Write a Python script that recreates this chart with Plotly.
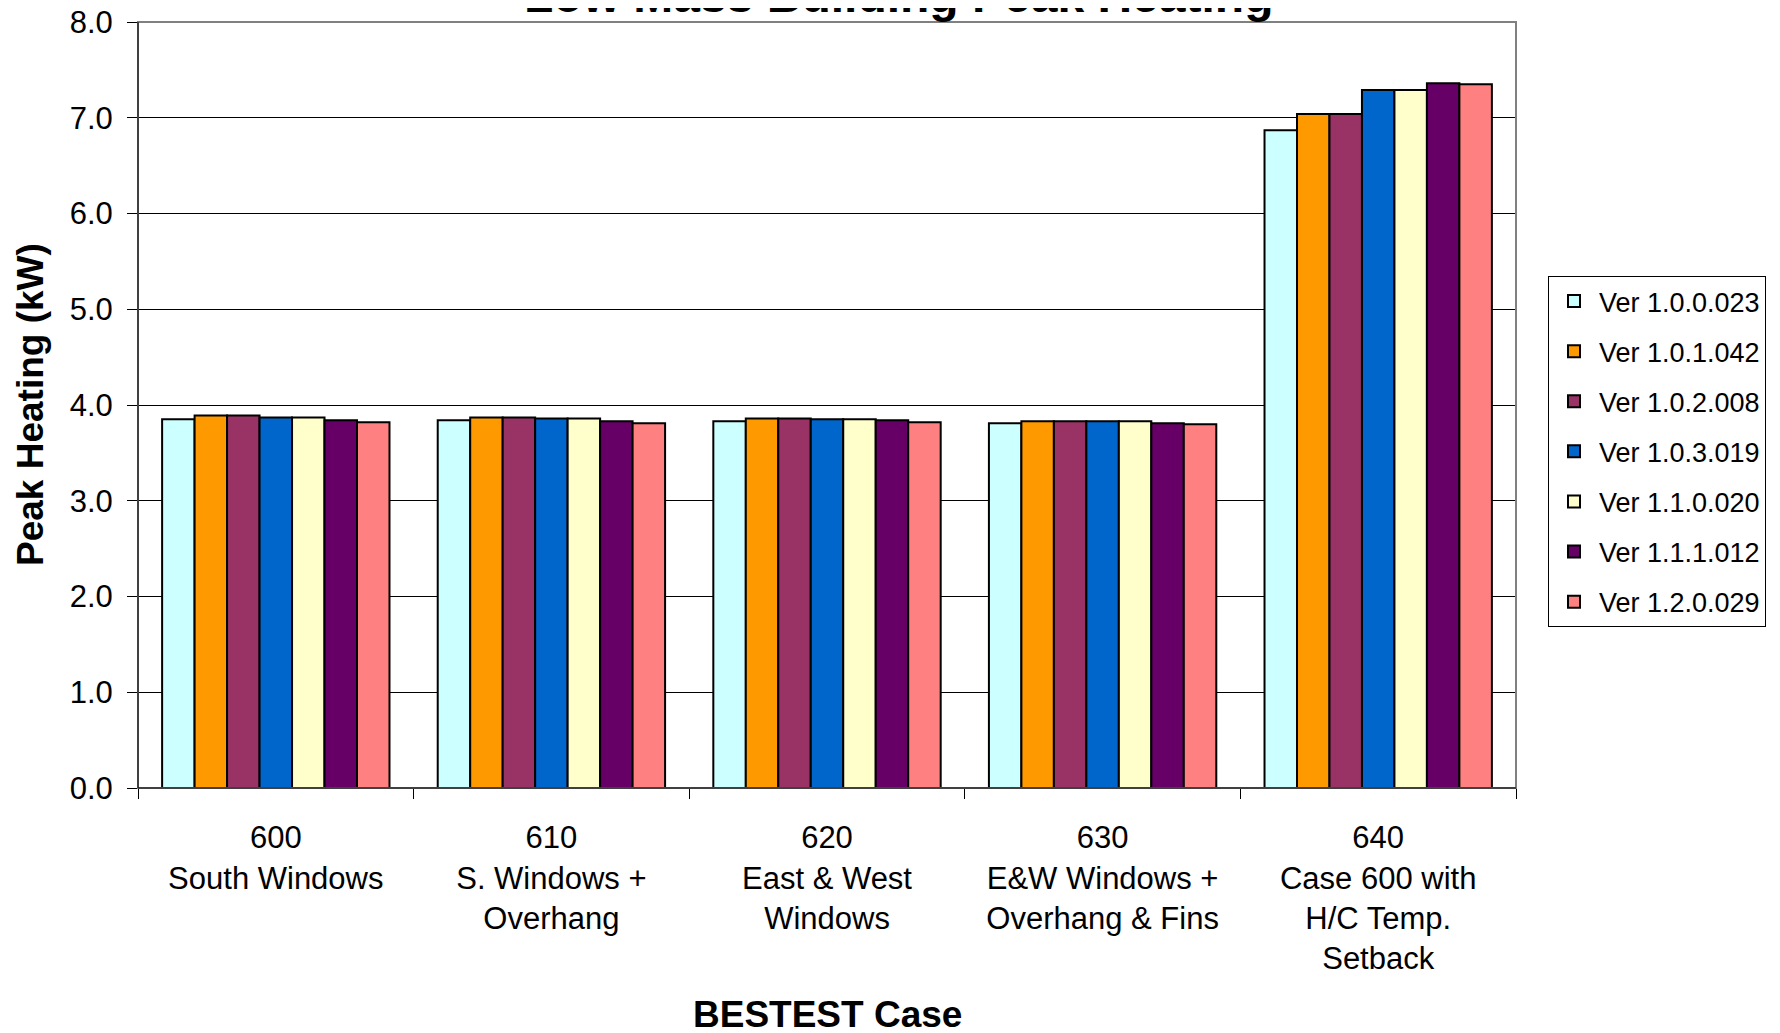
import plotly.graph_objects as go

categories = ["600<br>South Windows", "610<br>S. Windows +<br>Overhang",
              "620<br>East & West<br>Windows", "630<br>E&W Windows +<br>Overhang & Fins",
              "640<br>Case 600 with<br>H/C Temp.<br>Setback"]
series_names = ["Ver 1.0.0.023", "Ver 1.0.1.042", "Ver 1.0.2.008", "Ver 1.0.3.019",
                "Ver 1.1.0.020", "Ver 1.1.1.012", "Ver 1.2.0.029"]
v_1000023 = [3.85, 3.84, 3.83, 3.81, 6.87]
v_1010042 = [3.89, 3.87, 3.86, 3.83, 7.04]
v_1020008 = [3.89, 3.87, 3.86, 3.83, 7.04]
v_1030019 = [3.87, 3.86, 3.85, 3.83, 7.29]
v_1100020 = [3.87, 3.86, 3.85, 3.83, 7.29]
v_1110012 = [3.84, 3.83, 3.84, 3.81, 7.36]
v_1200029 = [3.82, 3.81, 3.82, 3.80, 7.35]
values = [v_1000023, v_1010042, v_1020008, v_1030019, v_1100020, v_1110012, v_1200029]
colors = ["#CCFFFF", "#FF9900", "#993366", "#0066CC", "#FFFFCC", "#660066", "#FF8080"]

FONT = "Arial, Liberation Sans, sans-serif"
W, H = 1780, 1033
L, R, T, B = 130, 272, 14, 253
PH = H - T - B
PW = W - L - R

fig = go.Figure()
for name, vals, col in zip(series_names, values, colors):
    fig.add_trace(go.Bar(x=categories, y=vals, name=name, legendgroup=name,
                         marker=dict(color=col, line=dict(color="black", width=2))))

fig.update_layout(
    width=W, height=H,
    margin=dict(l=L, r=R, t=T, b=B, autoexpand=False),
    paper_bgcolor="white", plot_bgcolor="white",
    barmode="group", bargap=0.175, bargroupgap=0,
    font=dict(family=FONT, color="black"),
    legend=dict(x=(1540 - L) / PW, xanchor="left", y=(H - B - 268) / PH, yanchor="top",
                bordercolor="black", borderwidth=1, bgcolor="white",
                font=dict(size=27, family=FONT), tracegroupgap=12, itemwidth=40),
    showlegend=True,
)
fig.update_xaxes(showline=True, linecolor="black", linewidth=1,
                 ticks="outside", tickson="boundaries", ticklen=10, tickcolor="black",
                 tickfont=dict(size=31, family=FONT), ticklabelstandoff=22,
                 showgrid=False)
fig.update_yaxes(range=[0, 8], dtick=1, tickformat=".1f",
                 showline=True, linecolor="black", linewidth=1,
                 ticks="outside", ticklen=10, tickcolor="black",
                 tickfont=dict(size=31, family=FONT), ticklabelstandoff=8,
                 ticklabeloverflow="allow",
                 showgrid=True, gridcolor="black", gridwidth=1, zeroline=False)
fig.add_shape(type="rect", xref="paper", yref="paper", x0=0, x1=1, y0=0, y1=1,
              line=dict(color="#808080", width=2), layer="above")
fig.add_shape(type="line", xref="paper", yref="paper", x0=0, x1=0, y0=0, y1=1,
              line=dict(color="black", width=1), layer="above")
fig.add_shape(type="line", xref="paper", yref="paper", x0=0, x1=1, y0=0, y1=0,
              line=dict(color="black", width=1), layer="above")
fig.add_annotation(text="<b>Low Mass Building Peak Heating</b>", xref="paper", yref="paper",
                   x=(890 - L) / PW, y=1 + (T + 13) / PH, xanchor="center", yanchor="middle",
                   showarrow=False, font=dict(size=48, family=FONT))
fig.add_annotation(text="<b>Peak Heating (kW)</b>", xref="paper", yref="paper",
                   x=(22 - L) / PW, y=0.5, xanchor="center", yanchor="middle",
                   textangle=-90, showarrow=False, font=dict(size=37, family=FONT))
fig.add_annotation(text="<b>BESTEST Case</b>", xref="paper", yref="paper",
                   x=0.5, y=-(1006 - (H - B)) / PH, xanchor="center", yanchor="middle",
                   showarrow=False, font=dict(size=37, family=FONT))
fig.write_html("out.html")
